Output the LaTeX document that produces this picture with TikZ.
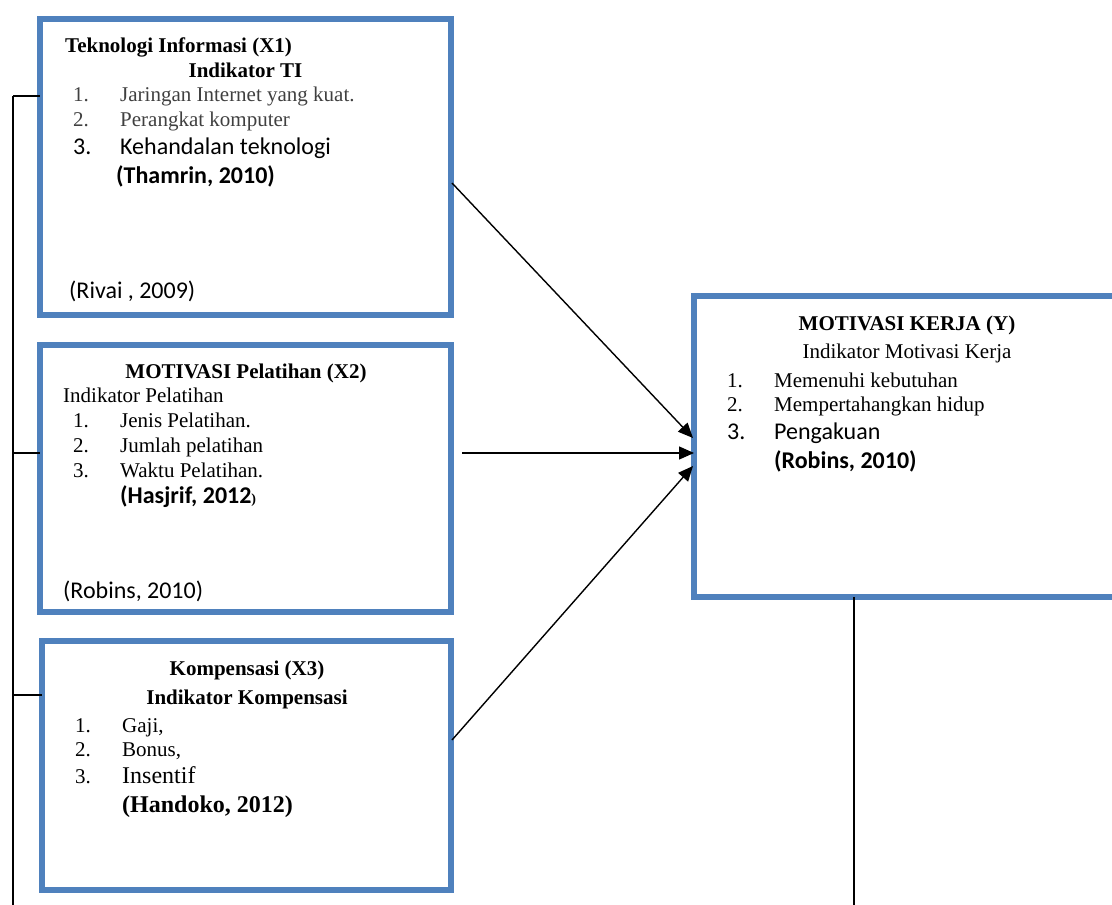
\documentclass[tikz,border=0pt]{standalone}
\usepackage{fontspec}
\setmainfont{Liberation Serif}
\newfontfamily\calibrifont{Carlito}
\usetikzlibrary{arrows.meta, positioning, calc}
\definecolor{boxblue}{RGB}{79,129,189}
\definecolor{itemgray}{RGB}{64,64,64}
\newcommand{\numitem}[1]{\makebox[47pt][l]{#1}}
\tikzset{
  varbox/.style={
    draw=boxblue,
    line width=6pt,
    rectangle,
    inner sep=0pt,
    outer sep=0pt
  },
  txt/.style={inner sep=0pt, anchor=base west, font=\fontsize{21}{24}\selectfont},
  txtb/.style={txt, font=\fontsize{21}{24}\selectfont\bfseries},
  big/.style={txt, font=\fontsize{24}{28}\selectfont},
  bigb/.style={txt, font=\fontsize{24}{28}\selectfont\bfseries},
  cal/.style={txt, font=\fontsize{24}{28}\selectfont\calibrifont},
  calb/.style={txt, font=\fontsize{24}{28}\selectfont\calibrifont\bfseries},
  link/.style={line width=2pt},
  arrow/.style={-{Triangle[length=15pt, width=13pt]}, line width=1.4pt}
}

\begin{document}
\begin{tikzpicture}[x=1pt, y=-1pt]
  \useasboundingbox (0,0) rectangle (1112,905);
  \clip (0,0) rectangle (1112,905);

  \node[varbox, minimum width=411pt, minimum height=296pt] (x1) at (245.5,167) {};
  \node[varbox, minimum width=411pt, minimum height=267pt] (x2) at (245.5,478.5) {};
  \node[varbox, minimum width=409pt, minimum height=249pt] (x3) at (246.5,765.5) {};
  \node[varbox, minimum width=426pt, minimum height=301pt] (kerja) at (907,446.5) {};

  % X1
  \node[txtb] (x1title) at (65,52) {Teknologi Informasi (X1)};
  \node[txtb, anchor=base] (x1ind) at (245.5,77) {Indikator TI};
  \node[txt, text=itemgray] (x1a) at (73,101) {\numitem{1.}Jaringan Internet yang kuat.};
  \node[txt, text=itemgray] (x1b) at (73,126) {\numitem{2.}Perangkat komputer};
  \node[cal] (x1c) at (73,154) {\numitem{3.}Kehandalan teknologi};
  \node[calb] (x1ref) at (116,183) {(Thamrin, 2010)};
  \node[cal] (x1src) at (69,298) {(Rivai , 2009)};

  % X2
  \node[txtb, anchor=base] (x2title) at (246,378) {MOTIVASI Pelatihan (X2)};
  \node[txt] (x2ind) at (63,402) {Indikator Pelatihan};
  \node[txt] (x2a) at (73,427) {\numitem{1.}Jenis Pelatihan.};
  \node[txt] (x2b) at (73,452) {\numitem{2.}Jumlah pelatihan};
  \node[txt] (x2c) at (73,477) {\numitem{3.}Waktu Pelatihan.};
  \node[calb] (x2ref) at (120,503) {(Hasjrif, 2012{\fontsize{14}{14}\selectfont\rmfamily)}};
  \node[cal] (x2src) at (63,598) {(Robins, 2010)};

  % X3
  \node[txtb, anchor=base] (x3title) at (247,675) {Kompensasi (X3)};
  \node[txtb, anchor=base] (x3ind) at (247,704) {Indikator Kompensasi};
  \node[txt] (x3a) at (75,732) {\numitem{1.}Gaji,};
  \node[txt] (x3b) at (75,756) {\numitem{2.}Bonus,};
  \node[txt] (x3c) at (75,783) {\numitem{3.}{\fontsize{24}{28}\selectfont Insentif}};
  \node[bigb] (x3ref) at (122,812) {(Handoko, 2012)};

  % Y
  \node[txtb, anchor=base] (ytitle) at (907,330) {MOTIVASI KERJA (Y)};
  \node[txt, anchor=base] (yind) at (907,358) {Indikator Motivasi Kerja};
  \node[txt] (ya) at (727,387) {\numitem{1.}Memenuhi kebutuhan};
  \node[txt] (yb) at (727,411) {\numitem{2.}Mempertahangkan hidup};
  \node[cal] (yc) at (727,439) {\numitem{3.}Pengakuan};
  \node[calb] (yref) at (774,468) {(Robins, 2010)};

  \coordinate (bus1) at (13,96);
  \coordinate (bus2) at (13,453);
  \coordinate (bus3) at (13,695);
  \coordinate (busend) at (13,905);
  \coordinate (yend) at (854,905);
  \coordinate (out1) at ($(x1.east)+(1,16)$);
  \coordinate (out2) at ($(x2.east)+(11,-25.5)$);
  \coordinate (out3) at ($(x3.east)+(1,-25.5)$);

  \draw[link] (bus1) -- (busend);
  \draw[link] (bus1) -- (bus1 -| x1.west);
  \draw[link] (bus2) -- (bus2 -| x2.west);
  \draw[link] (bus3) -- (bus3 -| x3.west);
  \draw[link] (yend |- kerja.south) -- (yend);

  \draw[arrow] (out1) -- ($(kerja.west)+(-1,-8.5)$);
  \draw[arrow] (out2) -- (out2 -| kerja.west);
  \draw[arrow] (out3) -- ($(kerja.west)+(-1,19.5)$);
\end{tikzpicture}
\end{document}
